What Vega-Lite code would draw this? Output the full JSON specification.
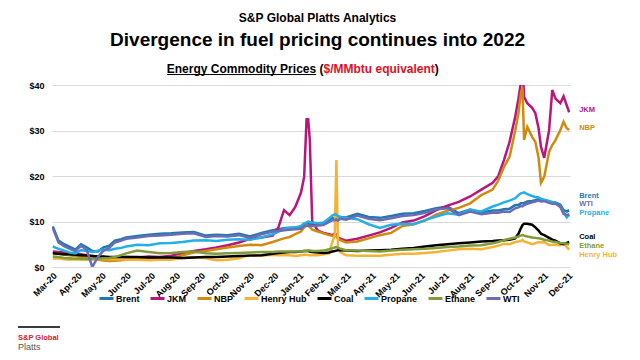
{
  "$schema": "https://vega.github.io/schema/vega-lite/v6.json",
  "padding": {"left": 18, "top": 12, "right": 5, "bottom": 5},
  "config": {"font": "Liberation Sans", "view": {"stroke": null}},
  "title": {"text": "S&P Global Platts Analytics", "subtitle": "Divergence in fuel pricing continues into 2022", "anchor": "middle", "fontSize": 12, "fontWeight": "bold", "color": "#000000", "subtitleFontSize": 19, "subtitleFontWeight": "bold", "subtitleColor": "#000000", "subtitlePadding": 6, "offset": 12},
  "datasets": {
    "prices": [
      {"d":"2020-03-02","Brent":8.9,"JKM":3.4,"NBP":3.0,"Henry Hub":1.8,"Coal":3.0,"Propane":4.5,"Ethane":2.3,"WTI":8.6},
      {"d":"2020-03-09","Brent":5.8,"JKM":3.3,"NBP":2.9,"Henry Hub":1.9,"Coal":2.9,"Propane":4.0,"Ethane":2.2,"WTI":5.4},
      {"d":"2020-03-16","Brent":5.0,"JKM":3.2,"NBP":2.7,"Henry Hub":1.7,"Coal":2.8,"Propane":3.6,"Ethane":2.0,"WTI":4.6},
      {"d":"2020-03-23","Brent":4.4,"JKM":3.0,"NBP":2.6,"Henry Hub":1.6,"Coal":2.8,"Propane":3.2,"Ethane":1.9,"WTI":4.0},
      {"d":"2020-03-30","Brent":3.8,"JKM":2.9,"NBP":2.4,"Henry Hub":1.7,"Coal":2.7,"Propane":3.0,"Ethane":1.8,"WTI":3.5},
      {"d":"2020-04-06","Brent":5.0,"JKM":2.8,"NBP":2.2,"Henry Hub":1.6,"Coal":2.6,"Propane":3.7,"Ethane":1.8,"WTI":4.7},
      {"d":"2020-04-13","Brent":4.3,"JKM":2.6,"NBP":2.0,"Henry Hub":1.7,"Coal":2.5,"Propane":3.5,"Ethane":1.7,"WTI":3.8},
      {"d":"2020-04-20","Brent":3.5,"JKM":2.4,"NBP":1.9,"Henry Hub":1.8,"Coal":2.4,"Propane":3.3,"Ethane":1.7,"WTI":0.0},
      {"d":"2020-04-27","Brent":3.4,"JKM":2.2,"NBP":1.6,"Henry Hub":1.7,"Coal":2.3,"Propane":3.6,"Ethane":1.8,"WTI":2.2},
      {"d":"2020-05-04","Brent":4.3,"JKM":2.2,"NBP":1.4,"Henry Hub":1.8,"Coal":2.3,"Propane":3.8,"Ethane":1.9,"WTI":3.6},
      {"d":"2020-05-11","Brent":4.7,"JKM":2.0,"NBP":1.3,"Henry Hub":1.7,"Coal":2.2,"Propane":3.7,"Ethane":2.0,"WTI":4.2},
      {"d":"2020-05-18","Brent":5.8,"JKM":2.0,"NBP":1.4,"Henry Hub":1.7,"Coal":2.2,"Propane":4.0,"Ethane":2.2,"WTI":5.4},
      {"d":"2020-05-26","Brent":6.1,"JKM":2.1,"NBP":1.5,"Henry Hub":1.7,"Coal":2.2,"Propane":4.2,"Ethane":2.6,"WTI":5.8},
      {"d":"2020-06-01","Brent":6.5,"JKM":2.2,"NBP":1.6,"Henry Hub":1.6,"Coal":2.2,"Propane":4.5,"Ethane":3.0,"WTI":6.2},
      {"d":"2020-06-15","Brent":6.8,"JKM":2.1,"NBP":1.7,"Henry Hub":1.6,"Coal":2.2,"Propane":4.9,"Ethane":3.6,"WTI":6.5},
      {"d":"2020-06-29","Brent":7.1,"JKM":2.3,"NBP":1.7,"Henry Hub":1.5,"Coal":2.1,"Propane":4.8,"Ethane":3.3,"WTI":6.8},
      {"d":"2020-07-13","Brent":7.3,"JKM":2.2,"NBP":1.6,"Henry Hub":1.6,"Coal":2.1,"Propane":5.2,"Ethane":3.0,"WTI":6.9},
      {"d":"2020-07-27","Brent":7.4,"JKM":2.5,"NBP":1.8,"Henry Hub":1.6,"Coal":2.1,"Propane":5.3,"Ethane":3.1,"WTI":7.1},
      {"d":"2020-08-10","Brent":7.6,"JKM":3.0,"NBP":2.6,"Henry Hub":2.0,"Coal":2.0,"Propane":5.5,"Ethane":3.3,"WTI":7.3},
      {"d":"2020-08-24","Brent":7.7,"JKM":3.5,"NBP":3.2,"Henry Hub":2.2,"Coal":2.1,"Propane":5.8,"Ethane":3.4,"WTI":7.4},
      {"d":"2020-09-08","Brent":6.9,"JKM":3.9,"NBP":3.5,"Henry Hub":1.9,"Coal":2.2,"Propane":5.9,"Ethane":3.0,"WTI":6.6},
      {"d":"2020-09-21","Brent":7.1,"JKM":4.3,"NBP":3.9,"Henry Hub":1.5,"Coal":2.2,"Propane":5.7,"Ethane":2.9,"WTI":6.8},
      {"d":"2020-10-05","Brent":7.0,"JKM":4.8,"NBP":4.3,"Henry Hub":1.6,"Coal":2.3,"Propane":6.0,"Ethane":3.0,"WTI":6.7},
      {"d":"2020-10-19","Brent":7.3,"JKM":5.4,"NBP":4.6,"Henry Hub":1.9,"Coal":2.4,"Propane":6.1,"Ethane":3.1,"WTI":7.0},
      {"d":"2020-11-02","Brent":6.7,"JKM":6.2,"NBP":4.9,"Henry Hub":2.7,"Coal":2.5,"Propane":6.0,"Ethane":3.2,"WTI":6.4},
      {"d":"2020-11-16","Brent":7.5,"JKM":6.5,"NBP":4.8,"Henry Hub":2.5,"Coal":2.6,"Propane":6.5,"Ethane":3.3,"WTI":7.2},
      {"d":"2020-11-30","Brent":8.1,"JKM":6.9,"NBP":5.5,"Henry Hub":2.7,"Coal":2.9,"Propane":7.2,"Ethane":3.3,"WTI":7.8},
      {"d":"2020-12-07","Brent":8.3,"JKM":8.7,"NBP":5.9,"Henry Hub":2.6,"Coal":3.1,"Propane":7.8,"Ethane":3.4,"WTI":7.9},
      {"d":"2020-12-14","Brent":8.5,"JKM":12.5,"NBP":6.3,"Henry Hub":2.6,"Coal":3.2,"Propane":8.3,"Ethane":3.4,"WTI":8.1},
      {"d":"2020-12-21","Brent":8.6,"JKM":11.4,"NBP":6.6,"Henry Hub":2.6,"Coal":3.3,"Propane":8.6,"Ethane":3.4,"WTI":8.2},
      {"d":"2020-12-28","Brent":8.7,"JKM":13.2,"NBP":7.2,"Henry Hub":2.4,"Coal":3.3,"Propane":8.7,"Ethane":3.4,"WTI":8.3},
      {"d":"2021-01-04","Brent":8.8,"JKM":16.3,"NBP":7.8,"Henry Hub":2.6,"Coal":3.4,"Propane":9.0,"Ethane":3.4,"WTI":8.4},
      {"d":"2021-01-08","Brent":9.4,"JKM":19.8,"NBP":8.7,"Henry Hub":2.7,"Coal":3.5,"Propane":9.6,"Ethane":3.5,"WTI":9.0},
      {"d":"2021-01-11","Brent":9.4,"JKM":32.5,"NBP":9.2,"Henry Hub":2.7,"Coal":3.5,"Propane":9.8,"Ethane":3.5,"WTI":9.0},
      {"d":"2021-01-13","Brent":9.5,"JKM":32.5,"NBP":9.0,"Henry Hub":2.6,"Coal":3.5,"Propane":10.0,"Ethane":3.6,"WTI":9.1},
      {"d":"2021-01-15","Brent":9.4,"JKM":28.0,"NBP":8.8,"Henry Hub":2.6,"Coal":3.4,"Propane":9.9,"Ethane":3.6,"WTI":9.0},
      {"d":"2021-01-18","Brent":9.4,"JKM":10.0,"NBP":8.2,"Henry Hub":2.6,"Coal":3.3,"Propane":9.8,"Ethane":3.5,"WTI":9.0},
      {"d":"2021-01-25","Brent":9.5,"JKM":8.0,"NBP":7.8,"Henry Hub":2.6,"Coal":3.2,"Propane":9.6,"Ethane":3.5,"WTI":9.1},
      {"d":"2021-02-01","Brent":9.6,"JKM":7.5,"NBP":7.4,"Henry Hub":2.8,"Coal":3.1,"Propane":9.8,"Ethane":3.6,"WTI":9.2},
      {"d":"2021-02-08","Brent":10.3,"JKM":7.2,"NBP":7.0,"Henry Hub":3.0,"Coal":3.2,"Propane":10.7,"Ethane":3.9,"WTI":9.9},
      {"d":"2021-02-12","Brent":10.7,"JKM":7.0,"NBP":6.8,"Henry Hub":5.5,"Coal":3.4,"Propane":11.3,"Ethane":4.1,"WTI":10.3},
      {"d":"2021-02-15","Brent":10.8,"JKM":7.3,"NBP":7.0,"Henry Hub":7.0,"Coal":3.5,"Propane":11.6,"Ethane":4.3,"WTI":10.3},
      {"d":"2021-02-17","Brent":10.9,"JKM":7.1,"NBP":6.7,"Henry Hub":23.5,"Coal":3.6,"Propane":11.5,"Ethane":4.4,"WTI":10.5},
      {"d":"2021-02-19","Brent":10.7,"JKM":6.5,"NBP":6.2,"Henry Hub":4.5,"Coal":3.7,"Propane":11.2,"Ethane":4.2,"WTI":10.2},
      {"d":"2021-02-22","Brent":11.0,"JKM":6.2,"NBP":5.9,"Henry Hub":3.2,"Coal":3.7,"Propane":11.0,"Ethane":4.0,"WTI":10.6},
      {"d":"2021-03-01","Brent":10.9,"JKM":5.8,"NBP":5.4,"Henry Hub":2.6,"Coal":3.6,"Propane":10.8,"Ethane":3.7,"WTI":10.4},
      {"d":"2021-03-15","Brent":11.7,"JKM":6.2,"NBP":5.6,"Henry Hub":2.5,"Coal":3.5,"Propane":10.5,"Ethane":3.6,"WTI":11.3},
      {"d":"2021-03-29","Brent":11.0,"JKM":6.9,"NBP":6.3,"Henry Hub":2.5,"Coal":3.6,"Propane":9.4,"Ethane":3.5,"WTI":10.6},
      {"d":"2021-04-12","Brent":10.8,"JKM":7.6,"NBP":7.0,"Henry Hub":2.5,"Coal":3.7,"Propane":8.6,"Ethane":3.4,"WTI":10.3},
      {"d":"2021-04-26","Brent":11.2,"JKM":8.6,"NBP":7.5,"Henry Hub":2.7,"Coal":3.8,"Propane":9.3,"Ethane":3.6,"WTI":10.7},
      {"d":"2021-05-10","Brent":11.7,"JKM":9.8,"NBP":9.0,"Henry Hub":2.9,"Coal":4.0,"Propane":9.5,"Ethane":3.8,"WTI":11.2},
      {"d":"2021-05-24","Brent":11.8,"JKM":10.2,"NBP":9.4,"Henry Hub":2.9,"Coal":4.2,"Propane":9.4,"Ethane":3.9,"WTI":11.4},
      {"d":"2021-06-07","Brent":12.3,"JKM":11.2,"NBP":10.2,"Henry Hub":3.1,"Coal":4.5,"Propane":10.3,"Ethane":4.0,"WTI":11.9},
      {"d":"2021-06-21","Brent":12.9,"JKM":12.5,"NBP":11.5,"Henry Hub":3.3,"Coal":4.8,"Propane":11.1,"Ethane":4.2,"WTI":12.7},
      {"d":"2021-07-05","Brent":13.3,"JKM":13.5,"NBP":12.4,"Henry Hub":3.6,"Coal":5.0,"Propane":11.8,"Ethane":4.4,"WTI":12.9},
      {"d":"2021-07-19","Brent":11.8,"JKM":14.3,"NBP":13.0,"Henry Hub":3.9,"Coal":5.2,"Propane":11.5,"Ethane":4.5,"WTI":11.4},
      {"d":"2021-08-02","Brent":12.6,"JKM":15.5,"NBP":14.0,"Henry Hub":4.0,"Coal":5.4,"Propane":12.6,"Ethane":4.7,"WTI":12.2},
      {"d":"2021-08-16","Brent":12.0,"JKM":17.0,"NBP":15.8,"Henry Hub":3.9,"Coal":5.6,"Propane":12.2,"Ethane":4.8,"WTI":11.6},
      {"d":"2021-08-30","Brent":12.4,"JKM":18.5,"NBP":17.0,"Henry Hub":4.4,"Coal":5.7,"Propane":13.3,"Ethane":5.2,"WTI":11.9},
      {"d":"2021-09-06","Brent":12.4,"JKM":20.0,"NBP":19.0,"Henry Hub":4.7,"Coal":5.8,"Propane":13.7,"Ethane":5.5,"WTI":11.9},
      {"d":"2021-09-13","Brent":12.7,"JKM":23.5,"NBP":22.0,"Henry Hub":5.1,"Coal":5.9,"Propane":14.2,"Ethane":5.9,"WTI":12.2},
      {"d":"2021-09-20","Brent":12.8,"JKM":27.5,"NBP":24.2,"Henry Hub":5.0,"Coal":6.0,"Propane":14.6,"Ethane":6.2,"WTI":12.1},
      {"d":"2021-09-27","Brent":13.6,"JKM":33.0,"NBP":30.0,"Henry Hub":5.5,"Coal":6.3,"Propane":15.1,"Ethane":6.5,"WTI":12.9},
      {"d":"2021-10-01","Brent":13.6,"JKM":37.0,"NBP":33.8,"Henry Hub":5.6,"Coal":7.3,"Propane":15.8,"Ethane":6.7,"WTI":13.1},
      {"d":"2021-10-04","Brent":14.0,"JKM":40.5,"NBP":38.2,"Henry Hub":5.7,"Coal":8.5,"Propane":16.2,"Ethane":6.9,"WTI":13.4},
      {"d":"2021-10-06","Brent":14.0,"JKM":45.0,"NBP":39.5,"Henry Hub":6.0,"Coal":9.2,"Propane":16.3,"Ethane":7.0,"WTI":13.3},
      {"d":"2021-10-08","Brent":14.1,"JKM":37.4,"NBP":27.9,"Henry Hub":5.6,"Coal":9.5,"Propane":16.4,"Ethane":6.9,"WTI":13.6},
      {"d":"2021-10-12","Brent":14.4,"JKM":36.0,"NBP":30.8,"Henry Hub":5.4,"Coal":9.5,"Propane":16.0,"Ethane":6.7,"WTI":13.9},
      {"d":"2021-10-18","Brent":14.5,"JKM":35.0,"NBP":28.6,"Henry Hub":5.0,"Coal":9.3,"Propane":15.6,"Ethane":6.5,"WTI":14.2},
      {"d":"2021-10-22","Brent":14.7,"JKM":33.8,"NBP":27.5,"Henry Hub":5.2,"Coal":8.7,"Propane":15.4,"Ethane":6.4,"WTI":14.4},
      {"d":"2021-10-26","Brent":14.9,"JKM":30.5,"NBP":24.0,"Henry Hub":5.5,"Coal":8.0,"Propane":15.3,"Ethane":6.3,"WTI":14.6},
      {"d":"2021-10-29","Brent":14.6,"JKM":26.4,"NBP":18.5,"Henry Hub":5.4,"Coal":7.3,"Propane":15.0,"Ethane":6.2,"WTI":14.4},
      {"d":"2021-11-02","Brent":14.6,"JKM":24.0,"NBP":19.8,"Henry Hub":5.5,"Coal":7.0,"Propane":14.8,"Ethane":6.0,"WTI":14.5},
      {"d":"2021-11-08","Brent":14.4,"JKM":30.0,"NBP":25.3,"Henry Hub":4.8,"Coal":6.4,"Propane":14.5,"Ethane":5.8,"WTI":14.1},
      {"d":"2021-11-12","Brent":14.2,"JKM":38.9,"NBP":26.8,"Henry Hub":4.9,"Coal":6.0,"Propane":14.3,"Ethane":5.6,"WTI":13.9},
      {"d":"2021-11-16","Brent":14.2,"JKM":37.0,"NBP":27.9,"Henry Hub":4.9,"Coal":5.8,"Propane":14.0,"Ethane":5.5,"WTI":13.9},
      {"d":"2021-11-22","Brent":13.7,"JKM":36.0,"NBP":30.1,"Henry Hub":4.8,"Coal":5.2,"Propane":13.3,"Ethane":5.3,"WTI":13.2},
      {"d":"2021-11-26","Brent":12.5,"JKM":37.5,"NBP":31.9,"Henry Hub":5.1,"Coal":5.0,"Propane":12.0,"Ethane":5.2,"WTI":11.7},
      {"d":"2021-11-30","Brent":12.2,"JKM":35.5,"NBP":30.5,"Henry Hub":4.4,"Coal":5.3,"Propane":10.9,"Ethane":5.1,"WTI":11.4},
      {"d":"2021-12-03","Brent":12.5,"JKM":34.0,"NBP":30.1,"Henry Hub":3.8,"Coal":5.5,"Propane":11.5,"Ethane":5.0,"WTI":11.6}
    ],
    "labels": [
      {"series":"JKM","v":34.5},
      {"series":"NBP","v":30.5},
      {"series":"Brent","v":15.7},
      {"series":"WTI","v":13.8},
      {"series":"Propane","v":11.9},
      {"series":"Coal","v":6.6},
      {"series":"Ethane","v":4.6},
      {"series":"Henry Hub","v":2.6}
    ]
  },
  "bounds": "full",
  "spacing": 22,
  "vconcat": [
    {
      "bounds": "flush",
      "spacing": 33,
      "hconcat": [
        {"width": 1, "height": 182, "data": {"values": [{}]}, "mark": {"type": "text"}, "encoding": {"text": {"value": ""}}},
        {
          "width": 518,
          "height": 182,
          "layer": [
            {
              "data": {"name": "prices"},
              "transform": [{"fold": ["Brent","JKM","NBP","Henry Hub","Coal","Propane","Ethane","WTI"], "as": ["series","v"]}],
              "mark": {"type": "line", "strokeWidth": 2.5, "clip": true},
              "encoding": {
                "x": {"field": "d", "type": "temporal",
                  "scale": {"type": "utc", "domain": [{"year":2020,"month":3,"date":1,"utc":true},{"year":2021,"month":12,"date":4,"utc":true}]},
                  "axis": {"title": null, "labelExpr": "utcFormat(datum.value, '%b-%y')", "tickCount": {"interval": "month", "step": 1}, "labelAngle": -45, "labelFontSize": 9, "labelFontWeight": "bold", "labelColor": "#000000", "grid": false, "ticks": false, "domain": false, "labelOverlap": false, "labelFlush": false, "labelBound": false, "labelPadding": 4}},
                "y": {"field": "v", "type": "quantitative",
                  "scale": {"domain": [0,40], "nice": false},
                  "axis": {"title": null, "values": [0,5,10,15,20,25,30,35,40], "format": "$,.0f", "labelFontSize": 9, "labelFontWeight": "bold", "labelColor": "#000000", "gridColor": "#d9d9d9", "gridWidth": 1, "domain": false, "ticks": false, "labelPadding": 8}},
                "color": {"field": "series", "type": "nominal",
                  "scale": {"domain": ["Brent","JKM","NBP","Henry Hub","Coal","Propane","Ethane","WTI"], "range": ["#1f78b0","#b8157d","#cf8a0f","#f5b335","#000000","#23b0e6","#7f9b3a","#6a6db3"]},
                  "legend": {"orient": "none", "legendX": 80, "legendY": 205, "direction": "horizontal", "gridAlign": "none", "title": null, "symbolType": "stroke", "symbolSize": 196, "symbolStrokeWidth": 3, "labelFontSize": 9, "labelFontWeight": "bold", "labelColor": "#000000", "labelOffset": 1, "columnPadding": 4, "labelLimit": 200}}
              }
            },
            {
              "data": {"name": "labels"},
              "mark": {"type": "text", "align": "left", "baseline": "middle", "dx": 10, "fontSize": 7.5, "fontWeight": "bold"},
              "encoding": {
                "x": {"datum": {"year":2021,"month":12,"date":3,"utc":true}, "type": "temporal"},
                "y": {"field": "v", "type": "quantitative"},
                "text": {"field": "series"},
                "color": {"field": "series", "type": "nominal", "legend": null}
              }
            },
            {
              "data": {"values": [{}]},
              "mark": {"type": "text", "align": "right", "baseline": "middle", "fontSize": 12, "fontWeight": "bold", "color": "#000000", "text": "Energy Commodity Prices ("},
              "encoding": {"x": {"datum": {"year":2021,"month":2,"date":1,"utc":true}, "type": "temporal"}, "y": {"datum": 43.5, "type": "quantitative"}}
            },
            {
              "data": {"values": [{}]},
              "mark": {"type": "text", "align": "left", "baseline": "middle", "fontSize": 12, "fontWeight": "bold", "color": "#e10e1e", "text": "$/MMbtu equivalent"},
              "encoding": {"x": {"datum": {"year":2021,"month":2,"date":1,"utc":true}, "type": "temporal"}, "y": {"datum": 43.5, "type": "quantitative"}}
            },
            {
              "data": {"values": [{}]},
              "mark": {"type": "text", "align": "left", "baseline": "middle", "fontSize": 12, "fontWeight": "bold", "color": "#000000", "text": ")"},
              "encoding": {"x": {"datum": {"year":2021,"month":6,"date":19,"utc":true}, "type": "temporal"}, "y": {"datum": 43.5, "type": "quantitative"}}
            },
            {
              "data": {"values": [{}]},
              "mark": {"type": "rule", "color": "#000000", "strokeWidth": 1},
              "encoding": {"x": {"datum": {"year":2020,"month":7,"date":22,"utc":true}, "type": "temporal"}, "x2": {"datum": {"year":2021,"month":1,"date":23,"utc":true}}, "y": {"datum": 42.3, "type": "quantitative"}}
            }
          ]
        }
      ]
    },
    {
      "width": 42,
      "height": 2,
      "view": {"fill": "#3c3c3c", "stroke": null},
      "data": {"values": [{}]},
      "mark": {"type": "text"},
      "encoding": {"text": {"value": ""}},
      "title": {"text": "S&P Global", "subtitle": "Platts", "orient": "bottom", "anchor": "start", "frame": "group", "fontSize": 7.5, "fontWeight": "bold", "color": "#d42030", "subtitleFontSize": 9, "subtitleFontWeight": "normal", "subtitleColor": "#555555", "offset": 2, "subtitlePadding": 1}
    }
  ]
}
